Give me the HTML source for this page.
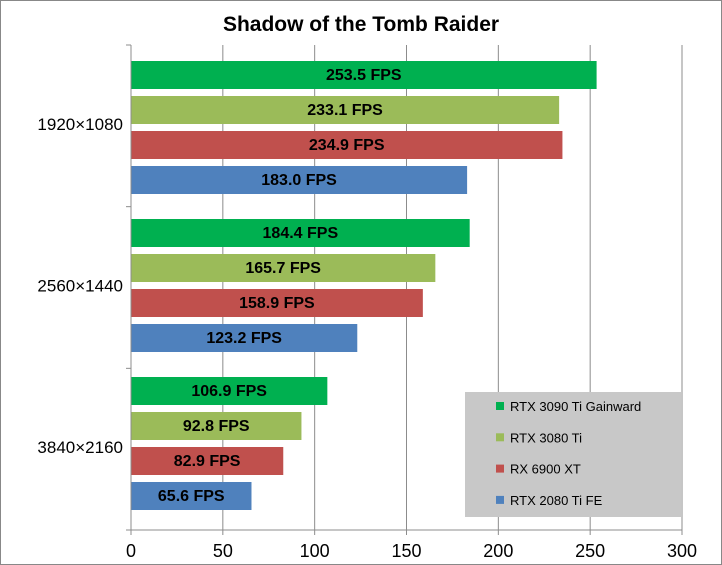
<!DOCTYPE html>
<html><head><meta charset="utf-8"><style>
body{margin:0;background:#fff}
svg{display:block;font-family:"Liberation Sans",sans-serif}
</style></head><body>
<svg id="chart" width="722" height="565" viewBox="0 0 722 565">
<rect x="0.5" y="0.5" width="721" height="564" fill="#fff" stroke="#888"/>
<text x="361" y="31" text-anchor="middle" font-size="21" font-weight="bold">Shadow of the Tomb Raider</text>
<g id="grid"></g><g id="bars"></g><g id="axes"></g>
<g>
<rect x="465" y="392" width="216" height="125" fill="#c8c8c8"/>
<g id="legend"></g>
</g>
</svg>
<script>
const categories=["1920×1080","2560×1440","3840×2160"];
const seriesNames=["RTX 3090 Ti Gainward","RTX 3080 Ti","RX 6900 XT","RTX 2080 Ti FE"];
const seriesColors=["#00b050","#9bbb59","#c0504d","#4f81bd"];
const s3090=[253.5,184.4,106.9];
const s3080=[233.1,165.7,92.8];
const s6900=[234.9,158.9,82.9];
const s2080=[183.0,123.2,65.6];
const ticks=[0,50,100,150,200,250,300];
const series=[s3090,s3080,s6900,s2080];
const NS="http://www.w3.org/2000/svg";
const X0=131,X1=682,YT=45,YB=530,MAX=300;
const x=v=>X0+v/MAX*(X1-X0);
const band=(YB-YT)/categories.length;
function mk(t,a,p){const e=document.createElementNS(NS,t);for(const k in a)e.setAttribute(k,a[k]);p.appendChild(e);return e;}
const grid=document.getElementById('grid'),bars=document.getElementById('bars'),axes=document.getElementById('axes'),leg=document.getElementById('legend');
ticks.forEach(t=>{
 if(t>0){const l=mk('line',{x1:x(t),x2:x(t),y1:YT,y2:YB,stroke:'#8c8c8c'},grid);
 
 }
 const tk=mk('line',{x1:x(t),x2:x(t),y1:YB,y2:YB+5,stroke:'#8c8c8c'},axes);
 
 
 const tx=mk('text',{x:x(t),y:YB+27,'text-anchor':'middle','font-size':18},axes);tx.textContent=t;
 
 
});
const ya=mk('line',{x1:X0,x2:X0,y1:YT,y2:YB,stroke:'#8c8c8c'},axes);


const xa=mk('line',{x1:X0-5,x2:X1,y1:YB,y2:YB,stroke:'#8c8c8c'},axes);


categories.forEach((c,i)=>{
 const top=YT+i*band;
 const tk=mk('line',{x1:X0-5,x2:X0,y1:top,y2:top,stroke:'#8c8c8c'},axes);
 
 
 const lb=mk('text',{x:X0-8,y:top+band/2+4,'text-anchor':'end','font-size':17},axes);lb.textContent=c;
 
 
 series.forEach((s,j)=>{
  const y=61+i*158+j*35;
  const r=mk('rect',{x:X0,y:y,width:x(s[i])-X0,height:28,fill:seriesColors[j]},bars);
  
  
  const t=mk('text',{x:X0+(x(s[i])-X0)/2,y:y+19,'text-anchor':'middle','font-size':16,'font-weight':'bold'},bars);
  t.textContent=s[i].toFixed(1)+' FPS';
  
  
 });
});
seriesNames.forEach((n,j)=>{
 const y=406+j*31.3;
 const g=mk('g',{},leg);
 
 
 mk('rect',{x:496,y:y-4,width:8,height:8,fill:seriesColors[j]},g);
 const t=mk('text',{x:510,y:y+5,'font-size':13},g);t.textContent=n;
});
</script>
</body></html>
